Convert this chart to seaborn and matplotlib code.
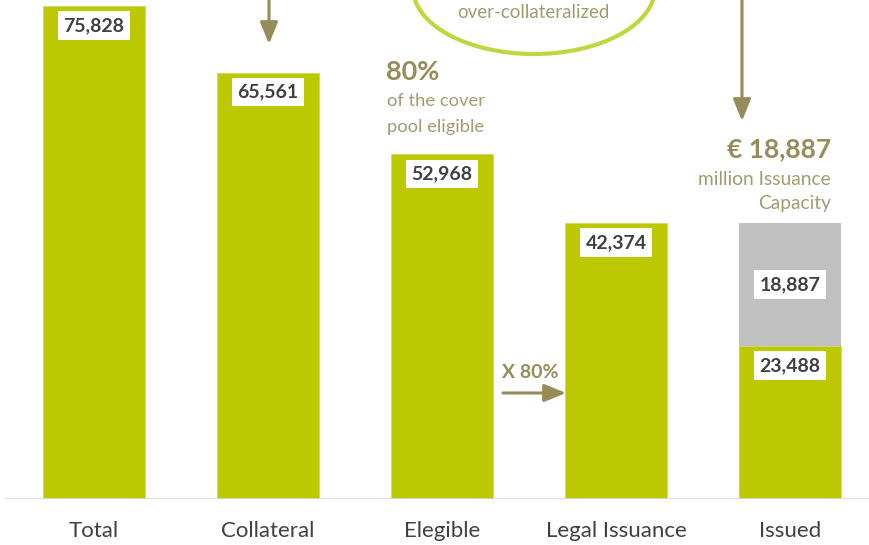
import matplotlib
matplotlib.use("Agg")
import matplotlib.pyplot as plt
from matplotlib.patches import Ellipse
import seaborn as sns
import pandas as pd

# Cover pool funnel (EUR million)
categories = ["Total", "Collateral", "Elegible", "Legal Issuance", "Issued"]
base_values = [75828, 65561, 52968, 42374, 23488]   # green bars
capacity_values = [0, 0, 0, 0, 18887]               # remaining issuance capacity (grey)

GREEN = "#BCC800"
GREY = "#C0C0C0"
OLIVE = "#968C5A"
OLIVE_TXT = "#A39B70"
RING = "#C2D53C"
DARK = "#404040"

W, H = 869, 545
sns.set_theme(style="white")
plt.rcParams["font.family"] = ["Lato", "DejaVu Sans"]

df = pd.DataFrame({
    "category": categories,
    "base": base_values,
    "stack": [b + c for b, c in zip(base_values, capacity_values)],
})

fig = plt.figure(figsize=(W / 100, H / 100), dpi=100)
ax = fig.add_axes([0, 46.5 / H, 1, 498.5 / H])

stack_palette = {c: (GREY if cap > 0 else GREEN) for c, cap in zip(categories, capacity_values)}
base_palette = {c: GREEN for c in categories}

sns.barplot(data=df, x="category", y="stack", hue="category", palette=stack_palette,
            width=0.586, saturation=1, legend=False, ax=ax)
sns.barplot(data=df, x="category", y="base", hue="category", palette=base_palette,
            width=0.586, saturation=1, legend=False, ax=ax)

for p in ax.patches:
    fc = p.get_facecolor()
    p.set_edgecolor("#D4DC6E" if fc[2] < 0.3 else "none")
    p.set_linewidth(0.6)

ax.set_xlim(-94 / 174, (W - 94) / 174)
ax.set_ylim(0, 76740)
for s in ax.spines.values():
    s.set_visible(False)
ax.set_yticks([])
ax.set_xlabel("")
ax.set_ylabel("")
ax.tick_params(axis="x", length=0, pad=16, labelsize=16, labelcolor=DARK)
ax.axhline(0, xmin=5 / W, xmax=1, color="#D9D9D9", lw=1.2, zorder=5)

box = dict(boxstyle="square,pad=0.3", fc="white", ec="none")

def value_label(x, y, val, dy):
    ax.annotate(f"{val:,}", xy=(x, y), xytext=(0, dy), textcoords="offset pixels",
                ha="center", va="center", fontsize=14, fontweight="bold",
                color=DARK, bbox=box, zorder=6)

for i, (b, c) in enumerate(zip(base_values, capacity_values)):
    value_label(i, b, b, -19.5)
    if c > 0:
        value_label(i, b + c / 2, c, 0)

def fp(x, y):
    return (x / W, 1 - y / H)

arrow = dict(arrowstyle="-|>,head_length=1.1,head_width=0.45", color=OLIVE, lw=2.2,
             shrinkA=0, shrinkB=0)

# Arrows from the headline boxes
ax.annotate("", xy=fp(269, 44), xytext=fp(269, -2), xycoords="figure fraction",
            textcoords="figure fraction", arrowprops=arrow)
ax.annotate("", xy=fp(742, 121), xytext=fp(742, -2), xycoords="figure fraction",
            textcoords="figure fraction", arrowprops=arrow)
ax.annotate("", xy=fp(566, 393), xytext=fp(503, 393), xycoords="figure fraction",
            textcoords="figure fraction", arrowprops=arrow)

# Over-collateralisation bubble
ring = Ellipse(fp(534, -12), 242 / W, 132 / H, transform=fig.transFigure,
               fill=False, ec=RING, lw=3.0, clip_on=False)
fig.patches.append(ring)
fig.text(*fp(533, 12), "over-collateralized", ha="center", va="center",
         fontsize=13.5, color=OLIVE_TXT)

# Eligibility note
fig.text(*fp(386, 72), "80%", ha="left", va="center", fontsize=19.5,
         fontweight="bold", color=OLIVE)
fig.text(*fp(387, 101), "of the cover", ha="left", va="center", fontsize=13.2, color=OLIVE_TXT)
fig.text(*fp(387, 127), "pool eligible", ha="left", va="center", fontsize=13.2, color=OLIVE_TXT)

# Issuance capacity note
fig.text(*fp(831, 149), "€ 18,887", ha="right", va="center", fontsize=19,
         fontweight="bold", color=OLIVE)
fig.text(*fp(831, 179), "million Issuance", ha="right", va="center", fontsize=13.8, color=OLIVE_TXT)
fig.text(*fp(831, 204), "Capacity", ha="right", va="center", fontsize=13.8, color=OLIVE_TXT)

# Multiplier next to the legal issuance bar
fig.text(*fp(502, 373), "X 80%", ha="left", va="center", fontsize=14,
         fontweight="bold", color=OLIVE)

fig.savefig("out.png", dpi=100)
